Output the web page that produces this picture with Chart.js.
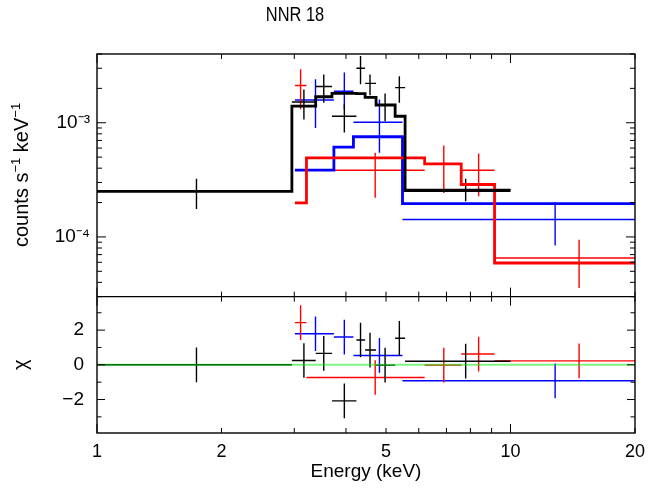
<!DOCTYPE html>
<html>
<head>
<meta charset="utf-8">
<script src="https://cdn.jsdelivr.net/npm/chart.js@4.4.1/dist/chart.umd.min.js"></script>
<style>
  html, body { margin: 0; padding: 0; background: #fff; }
</style>
</head>
<body>
<canvas id="spec" width="653" height="489"></canvas>
<script>
// black spectrum: bin edges (keV), folded model, data, residuals
const blackEdges = [1, 2.96, 3.38, 3.70, 4.24, 4.45, 4.73, 5.26, 5.56, 10.0];
const blackModel = [2.51e-4, 1.40e-3, 1.69e-3, 1.81e-3, 1.80e-3, 1.67e-3, 1.43e-3, 1.14e-3, 2.55e-4];
const blackEnergy = [1.74, 3.165, 3.535, 3.964, 4.338, 4.573, 4.974, 5.385, 7.79];
const blackRate = [2.51e-4, 1.52e-3, 2.08e-3, 1.14e-3, 3.0e-3, 2.21e-3, 1.42e-3, 2.03e-3, 2.6e-4];
const blackRateLo = [1.76e-4, 1.07e-3, 1.50e-3, 8.2e-4, 2.17e-3, 1.74e-3, 1.03e-3, 1.50e-3, 2.05e-4];
const blackRateHi = [3.23e-4, 1.96e-3, 2.65e-3, 1.45e-3, 3.84e-3, 2.65e-3, 1.80e-3, 2.56e-3, 3.23e-4];
const blackChi = [0, 0.25, 0.66, -2.08, 1.43, 0.85, -0.02, 1.53, 0.21];

// red spectrum
const redEdges = [3.01, 3.21, 6.20, 7.60, 9.15, 20];
const redModel = [1.99e-4, 4.93e-4, 4.37e-4, 2.88e-4, 5.91e-5];
const redEnergy = [3.107, 4.707, 6.897, 8.374, 14.65];
const redRate = [2.12e-3, 3.84e-4, 4.37e-4, 3.84e-4, 6.54e-5];
const redRateLo = [1.31e-3, 2.20e-4, 2.43e-4, 2.27e-4, 3.57e-5];
const redRateHi = [2.94e-3, 5.46e-4, 6.32e-4, 5.38e-4, 9.47e-5];
const redChi = [2.43, -0.73, -0.02, 0.62, 0.23];

// blue spectrum
const blueEdges = [3.01, 3.74, 4.17, 5.48, 20];
const blueModel = [3.84e-4, 6.11e-4, 7.54e-4, 1.96e-4];
const blueEnergy = [3.376, 3.964, 4.82, 12.82];
const blueRate = [1.58e-3, 1.89e-3, 1.01e-3, 1.42e-4];
const blueRateLo = [9.0e-4, 1.31e-3, 5.46e-4, 8.4e-5];
const blueRateHi = [2.40e-3, 2.75e-3, 1.60e-3, 2.01e-4];
const blueChi = [1.79, 1.60, 0.54, -0.92];

const chiErr = 1; // residuals are in units of sigma

const energyTicks = [1, 2, 5, 10, 20];
const rateTicks = [1e-4, 1e-3];
const rateTickLabels = ["10\u207B\u2074", "10\u207B\u00B3"];
const chiTicks = [-2, 0, 2];
const chiTickLabels = ["\u22122", "0", "2"];

const FONT = "'Liberation Sans', Arial, Helvetica, sans-serif";

function lineSet(data, color, width, axis, order) {
    return {
        data: data,
        borderColor: color,
        backgroundColor: color,
        borderWidth: width,
        pointRadius: 0,
        tension: 0,
        yAxisID: axis,
        order: order,
    };
}

function stepPoints(edges, model) {
    const pts = [];
    for (let i = 0; i < model.length; ++i) {
        pts.push({ x: edges[i], y: model[i] });
        pts.push({ x: edges[i + 1], y: model[i] });
    }
    return pts;
}

// one horizontal (bin width) and one vertical (error) segment per point
function crossSets(edges, xs, ys, lo, hi, color, axis) {
    const sets = [];
    for (let i = 0; i < xs.length; ++i) {
        sets.push(lineSet([{ x: edges[i], y: ys[i] }, { x: edges[i + 1], y: ys[i] }], color, 1.4, axis, 3));
        sets.push(lineSet([{ x: xs[i], y: lo[i] }, { x: xs[i], y: hi[i] }], color, 1.4, axis, 3));
    }
    return sets;
}

const spectra = [
    { c: "#000000", e: blackEdges, m: blackModel, x: blackEnergy, y: blackRate, lo: blackRateLo, hi: blackRateHi, chi: blackChi },
    { c: "#ff0000", e: redEdges, m: redModel, x: redEnergy, y: redRate, lo: redRateLo, hi: redRateHi, chi: redChi },
    { c: "#0000ff", e: blueEdges, m: blueModel, x: blueEnergy, y: blueRate, lo: blueRateLo, hi: blueRateHi, chi: blueChi },
];

const datasets = [];
spectra.forEach((s) => {
    datasets.push(...crossSets(s.e, s.x, s.y, s.lo, s.hi, s.c, "y"));
    datasets.push(lineSet(stepPoints(s.e, s.m), s.c, 2.8, "y", 2));
    datasets.push(...crossSets(s.e, s.x, s.chi,
        s.chi.map((v) => v - chiErr), s.chi.map((v) => v + chiErr), s.c, "chi"));
});
// zero line of the residual panel
datasets.push(lineSet([{ x: 1, y: 0 }, { x: 20, y: 0 }], "rgba(0,235,0,0.5)", 2, "chi", 0));

function drawLine(ctx, x0, y0, x1, y1) {
    ctx.beginPath();
    ctx.moveTo(x0, y0);
    ctx.lineTo(x1, y1);
    ctx.stroke();
}

// rotated y title with real superscripts
function drawRateTitle(ctx, x, y) {
    const parts = [
        ["counts s", 20, 0],
        ["\u22121", 13, 8],
        [" keV", 20, 0],
        ["\u22121", 13, 8],
    ];
    ctx.save();
    ctx.translate(x, y);
    ctx.rotate(-Math.PI / 2);
    ctx.textAlign = "left";
    ctx.textBaseline = "alphabetic";
    let pos = 0;
    parts.forEach(([text, size, rise]) => {
        ctx.font = size + "px " + FONT;
        ctx.fillText(text, pos, -rise);
        pos += ctx.measureText(text).width;
    });
    ctx.restore();
}

const framePlugin = {
    id: "frame",
    afterDraw(chart) {
        const { ctx, chartArea: a } = chart;
        const sx = chart.scales.x, sy = chart.scales.y, sc = chart.scales.chi;
        const mid = sy.bottom;
        ctx.save();
        ctx.strokeStyle = "#000";
        ctx.lineWidth = 1.4;
        ctx.strokeRect(a.left, a.top, a.right - a.left, a.bottom - a.top);
        drawLine(ctx, a.left, mid, a.right, mid);
        ctx.lineWidth = 1;
        // energy ticks, pointing inward on every horizontal edge
        for (let v = 1; v <= 20; ++v) {
            if (v > 10 && v < 20) continue;
            const px = sx.getPixelForValue(v);
            const len = v === 1 || v === 10 ? 9 : 5;
            drawLine(ctx, px, a.top, px, a.top + len);
            drawLine(ctx, px, mid, px, mid - len);
            drawLine(ctx, px, mid, px, mid + len);
            drawLine(ctx, px, a.bottom, px, a.bottom - len);
        }
        // rate ticks
        for (let d = -5; d <= -3; ++d) {
            for (let k = 1; k <= 9; ++k) {
                const v = k * Math.pow(10, d);
                if (v < sy.min || v > sy.max) continue;
                const py = sy.getPixelForValue(v);
                const len = k === 1 ? 9 : 5;
                drawLine(ctx, a.left, py, a.left + len, py);
                drawLine(ctx, a.right, py, a.right - len, py);
            }
        }
        // chi ticks
        for (let v = -3; v <= 3; ++v) {
            const py = sc.getPixelForValue(v);
            const len = v % 2 === 0 ? 8 : 4.5;
            drawLine(ctx, a.left, py, a.left + len, py);
            drawLine(ctx, a.right, py, a.right - len, py);
        }
        ctx.fillStyle = "#000";
        drawRateTitle(ctx, 28, 247);
        // plot title (narrow face)
        ctx.font = "20px " + FONT;
        ctx.textAlign = "center";
        ctx.textBaseline = "middle";
        ctx.translate(295, 15);
        ctx.scale(0.82, 1);
        ctx.fillText("NNR 18", 0, 0);
        ctx.restore();
    },
};

new Chart(document.getElementById("spec"), {
    type: "line",
    data: { datasets: datasets },
    plugins: [framePlugin],
    options: {
        responsive: false,
        animation: false,
        layout: { padding: { left: 0, right: 15, top: 54, bottom: 0 } },
        plugins: {
            legend: { display: false },
            tooltip: { enabled: false },
            title: { display: false },
        },
        scales: {
            x: {
                type: "logarithmic",
                position: "bottom",
                min: 1,
                max: 20,
                grid: { display: false, drawTicks: false },
                border: { display: false },
                afterBuildTicks: (s) => {
                    s.ticks = energyTicks.map((v) => ({ value: v }));
                },
                afterFit: (s) => {
                    s.height = 56;
                },
                ticks: {
                    autoSkip: false,
                    maxRotation: 0,
                    padding: 8,
                    color: "#000",
                    font: { family: FONT, size: 18 },
                    callback: (v) => String(v),
                },
                title: {
                    display: true,
                    text: "Energy (keV)",
                    color: "#000",
                    font: { family: FONT, size: 19 },
                    padding: { top: 0, bottom: 6 },
                },
            },
            chi: {
                type: "linear",
                position: "left",
                stack: "panels",
                stackWeight: 136,
                min: -3.93,
                max: 3.93,
                grid: { display: false, drawTicks: false },
                border: { display: false },
                afterBuildTicks: (s) => {
                    s.ticks = chiTicks.map((v) => ({ value: v }));
                },
                afterFit: (s) => {
                    s.width = 97;
                },
                ticks: {
                    padding: 13,
                    color: "#000",
                    font: { family: FONT, size: 19 },
                    callback: (v) => chiTickLabels[chiTicks.indexOf(v)],
                },
                title: {
                    display: true,
                    text: "\u03C7",
                    color: "#000",
                    font: { family: FONT, size: 20 },
                    padding: { top: 9, bottom: 0 },
                },
            },
            y: {
                type: "logarithmic",
                position: "left",
                stack: "panels",
                stackWeight: 242,
                min: 3e-5,
                max: 4e-3,
                grid: { display: false, drawTicks: false },
                border: { display: false },
                afterBuildTicks: (s) => {
                    s.ticks = rateTicks.map((v) => ({ value: v }));
                },
                afterFit: (s) => {
                    s.width = 97;
                },
                ticks: {
                    padding: 7,
                    color: "#000",
                    font: { family: FONT, size: 19 },
                    callback: (v) => rateTickLabels[rateTicks.indexOf(v)],
                },
                title: { display: false },
            },
        },
    },
});
</script>
</body>
</html>
